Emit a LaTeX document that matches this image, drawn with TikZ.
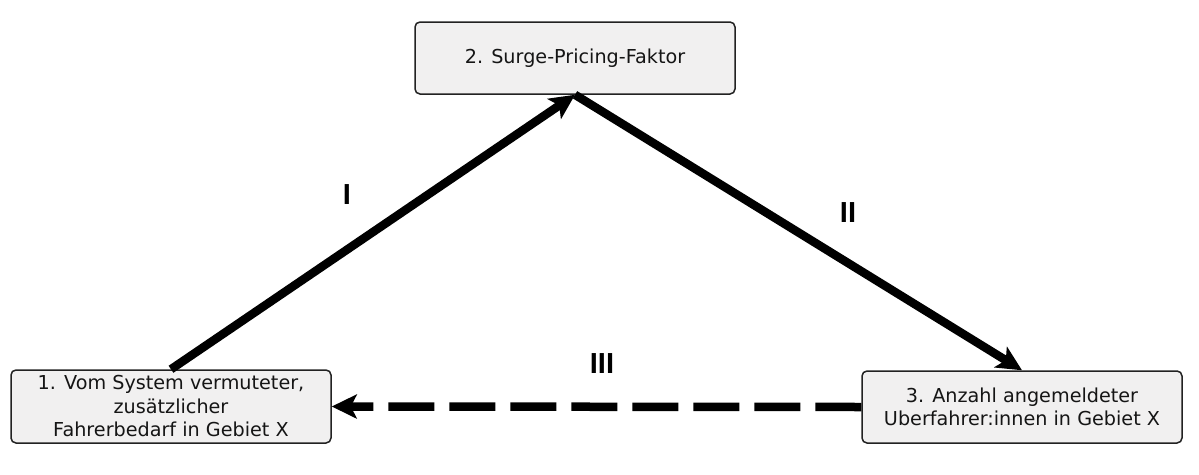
\documentclass[tikz,border=0pt]{standalone}
\usepackage{fontspec}
\setmainfont{DejaVu Sans}
\newfontfamily\lblfont{Liberation Sans}
\usetikzlibrary{arrows.meta}
\definecolor{boxfill}{HTML}{F1F0F0}
\definecolor{boxline}{HTML}{222222}
\definecolor{txt}{HTML}{151515}
\begin{document}
\begin{tikzpicture}[x=1pt,y=-1pt,
  stepbox/.style={draw=boxline, line width=1.5pt, fill=boxfill, rounded corners=5pt,
    minimum width=320pt, inner sep=0pt, align=center, text=txt,
    font=\fontsize{19.2}{23.5}\selectfont},
  flow/.style={line width=8.5pt, -{Stealth[length=25pt,width=24pt,inset=6pt]}},
  lbl/.style={font=\lblfont\bfseries\fontsize{29}{32}\selectfont, text=black}]
\useasboundingbox (0,0) rectangle (1199,474);
\node[stepbox, minimum height=72pt] (b2) at (575,58) {2. Surge-Pricing-Faktor};
\node[stepbox, minimum height=73pt] (b1) at (171,406.5) {1. Vom System vermuteter,\\zusätzlicher\\Fahrerbedarf in Gebiet X};
\node[stepbox, minimum height=72pt] (b3) at (1022,407) {3. Anzahl angemeldeter\\Uberfahrer:innen in Gebiet X};
\draw[flow] (b1.north) -- (b2.south);
\draw[flow] (b2.south) -- (b3.north);
\draw[flow, dash pattern=on 46pt off 15pt] (b3.west) -- (b1.east);
\node[lbl] (l1) at (347,195) {I};
\node[lbl] (l2) at (848,213) {II};
\node[lbl] (l3) at (602,364) {III};
\end{tikzpicture}
\end{document}
